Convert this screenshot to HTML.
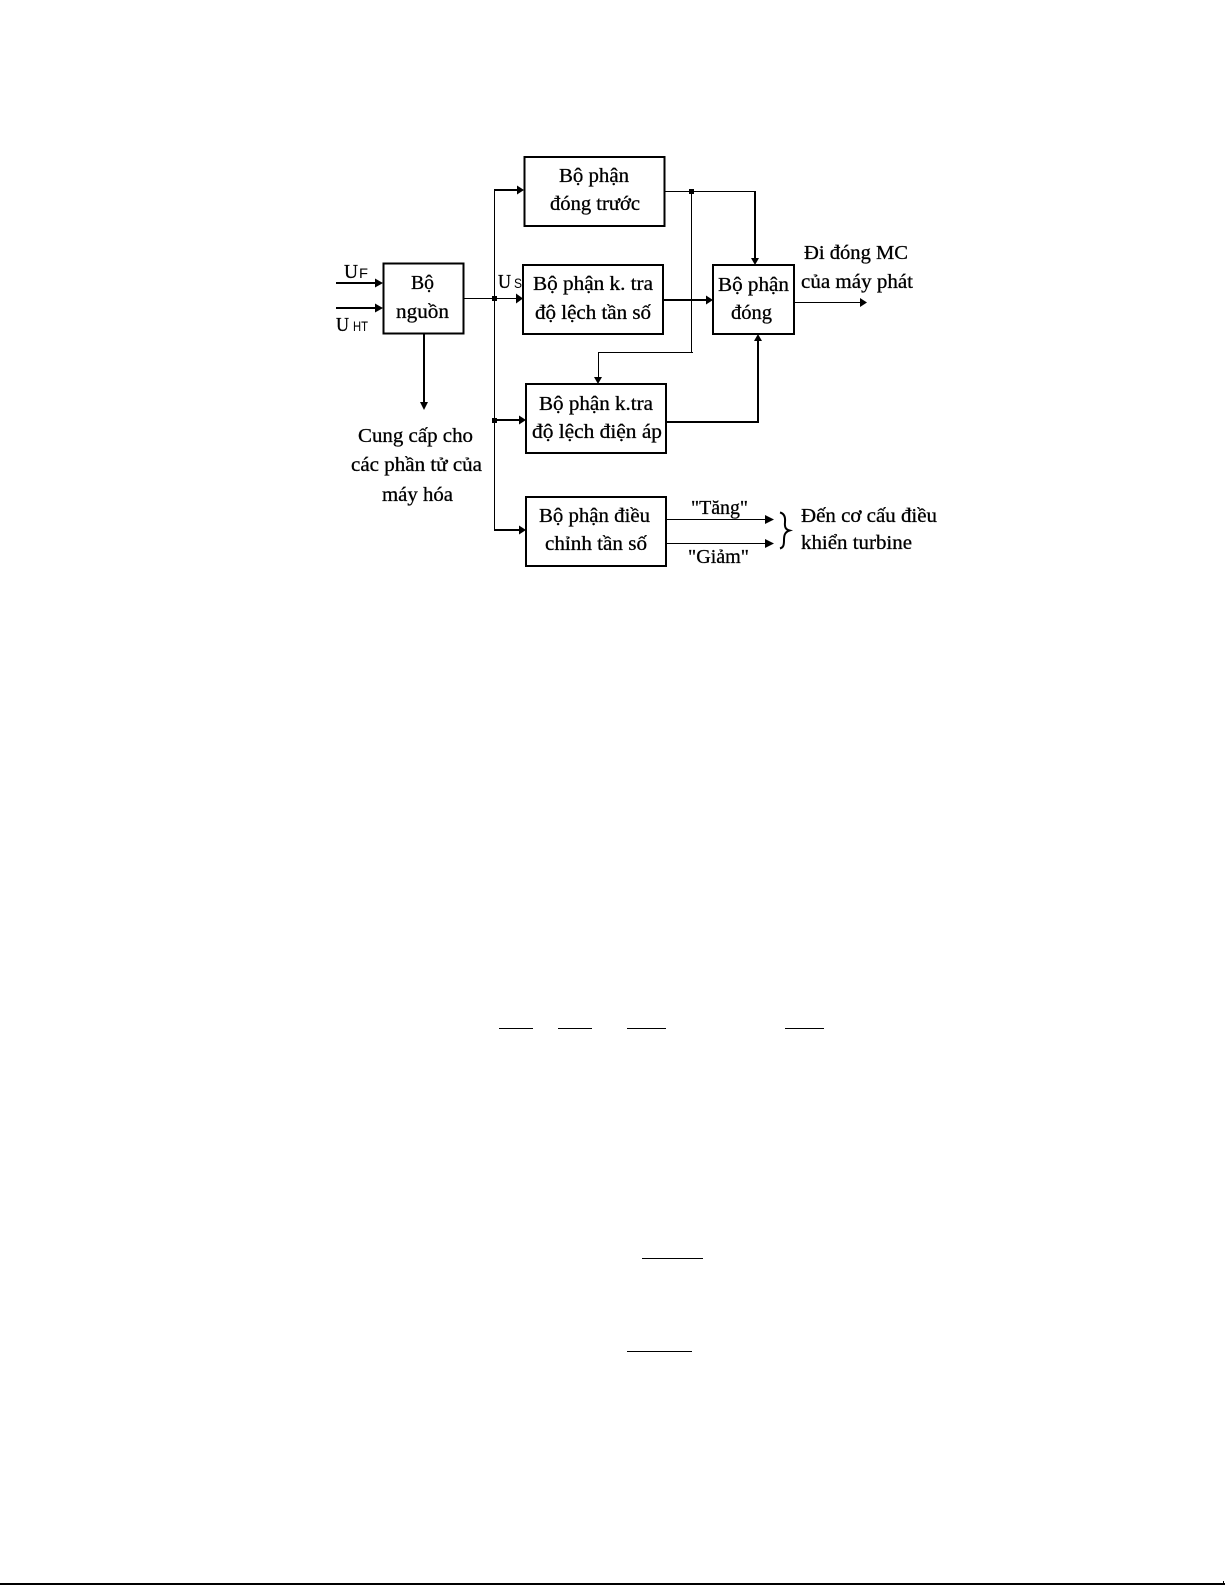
<!DOCTYPE html>
<html lang="vi"><head><meta charset="utf-8"><title>Sơ đồ</title>
<style>
html,body{margin:0;padding:0;background:#fff;width:1225px;height:1585px;overflow:hidden}
svg{display:block}
text{font-family:"Liberation Serif",serif;font-size:20px;fill:#000;stroke:#000;stroke-width:.3px}
.s{font-family:"Liberation Sans",sans-serif;font-size:14px;stroke-width:0}
.l{stroke:#000;fill:none;shape-rendering:crispEdges}
.b{stroke:#000;fill:#fff;stroke-width:2;shape-rendering:crispEdges}
</style></head><body>
<svg width="1225" height="1585" viewBox="0 0 1225 1585" xmlns="http://www.w3.org/2000/svg">
<rect width="1225" height="1585" fill="#fff"/>
<!-- boxes -->
<rect class="b" x="383.5" y="263.5" width="80" height="70"/>
<rect class="b" x="524.5" y="157" width="140" height="69"/>
<rect class="b" x="523" y="265" width="140" height="69"/>
<rect class="b" x="713" y="265" width="81" height="69"/>
<rect class="b" x="526" y="384" width="140" height="69"/>
<rect class="b" x="526" y="497" width="140" height="69"/>
<!-- connectors -->
<path class="l" stroke-width="1" d="M494.5 190V530"/>
<path class="l" stroke-width="1" d="M463 298.5H520"/>
<path class="l" stroke-width="1" d="M664 191.500H755"/>
<path class="l" stroke-width="1" d="M691.500 191V352.500"/>
<path class="l" stroke-width="1" d="M598.500 378V352.500H693"/>
<path class="l" stroke-width="1" d="M794 302.500H862"/>
<path class="l" stroke-width="1" d="M666 519.500H768"/>
<path class="l" stroke-width="1" d="M666 543.500H768"/>
<path class="l" stroke-width="2" d="M494 190H520M494 420H520M494 530H520"/>
<path class="l" stroke-width="2" d="M336 283H378M336 308H378"/>
<path class="l" stroke-width="2" d="M424 334V403"/>
<path class="l" stroke-width="2" d="M755 191V259"/>
<path class="l" stroke-width="2" d="M663 300H708"/>
<path class="l" stroke-width="2" d="M666 422H758V341"/>
<!-- dots -->
<rect x="492" y="296" width="5" height="5"/>
<rect x="492" y="418" width="5" height="5"/>
<rect x="689" y="189" width="5" height="5"/>
<!-- arrowheads -->
<path d="M375 278.500L383 283L375 287.500Z M375 303.500L383 308L375 312.500Z"/>
<path d="M517 185.500L524 190L517 194.500Z M516 293.500L523 298.500L516 303.500Z M519 415.500L526 420L519 424.500Z M519 525.500L526 530L519 534.500Z"/>
<path d="M706 295.500L713 300L706 304.500Z M860 298L867 302.500L860 307Z"/>
<path d="M765 515L774 519.500L765 524Z M765 539L774 543.500L765 548Z"/>
<path d="M420 402H428L424 410Z M751 258H759L755 265Z M594 377H602L598 384Z M754 341H762L758 334Z"/>
<!-- brace -->
<path d="M780 512.500C784 513.500 785.500 517 785 522C784.500 527 785.500 529.500 789.500 530.500C785 532 784 535 784 540C784 545 783.500 547.500 780 548.500" fill="none" stroke="#000" stroke-width="2"/>
<!-- labels -->
<text x="344" y="278" textLength="14" lengthAdjust="spacingAndGlyphs">U</text><text class="s" x="359" y="278" textLength="9" lengthAdjust="spacingAndGlyphs">F</text>
<text x="336" y="331" textLength="13" lengthAdjust="spacingAndGlyphs">U</text><text class="s" x="353" y="331" textLength="15" lengthAdjust="spacingAndGlyphs">HT</text>
<text x="498" y="288" textLength="13" lengthAdjust="spacingAndGlyphs">U</text><text class="s" x="514" y="288" textLength="8" lengthAdjust="spacingAndGlyphs">S</text>

<text x="411" y="289" textLength="23" lengthAdjust="spacingAndGlyphs">Bộ</text>
<text x="396" y="318" textLength="53" lengthAdjust="spacingAndGlyphs">nguồn</text>

<text x="559" y="182" textLength="70" lengthAdjust="spacingAndGlyphs">Bộ phận</text>
<text x="550" y="210" textLength="90" lengthAdjust="spacingAndGlyphs">đóng trước</text>

<text x="533" y="290" textLength="120" lengthAdjust="spacingAndGlyphs">Bộ phận k. tra</text>
<text x="535" y="319" textLength="116" lengthAdjust="spacingAndGlyphs">độ lệch tần số</text>

<text x="718" y="291" textLength="71" lengthAdjust="spacingAndGlyphs">Bộ phận</text>
<text x="731" y="319" textLength="41" lengthAdjust="spacingAndGlyphs">đóng</text>

<text x="804" y="259" textLength="104" lengthAdjust="spacingAndGlyphs">Đi đóng MC</text>
<text x="801" y="288" textLength="112" lengthAdjust="spacingAndGlyphs">của máy phát</text>

<text x="539" y="410" textLength="114" lengthAdjust="spacingAndGlyphs">Bộ phận k.tra</text>
<text x="532" y="438" textLength="130" lengthAdjust="spacingAndGlyphs">độ lệch điện áp</text>

<text x="358" y="442" textLength="115" lengthAdjust="spacingAndGlyphs">Cung cấp cho</text>
<text x="351" y="471" textLength="131" lengthAdjust="spacingAndGlyphs">các phần tử của</text>
<text x="382" y="501" textLength="71" lengthAdjust="spacingAndGlyphs">máy hóa</text>

<text x="539" y="522" textLength="111" lengthAdjust="spacingAndGlyphs">Bộ phận điều</text>
<text x="545" y="550" textLength="102" lengthAdjust="spacingAndGlyphs">chỉnh tần số</text>

<text x="691" y="514" textLength="57" lengthAdjust="spacingAndGlyphs">"Tăng"</text>
<text x="688" y="563" textLength="61" lengthAdjust="spacingAndGlyphs">"Giảm"</text>

<text x="801" y="522" textLength="136" lengthAdjust="spacingAndGlyphs">Đến cơ cấu điều</text>
<text x="801" y="549" textLength="111" lengthAdjust="spacingAndGlyphs">khiển turbine</text>

<!-- fraction bars -->
<path class="l" stroke-width="1" d="M499 1028.500H533M558 1028.500H592M627 1028.500H666M785 1028.500H824M642 1258.500H703M627 1351.500H692"/>
<!-- bottom rule -->
<rect x="0" y="1583" width="1225" height="2" fill="#000"/>
<rect x="1223" y="1581" width="1" height="2" fill="#000"/>
</svg>
</body></html>
